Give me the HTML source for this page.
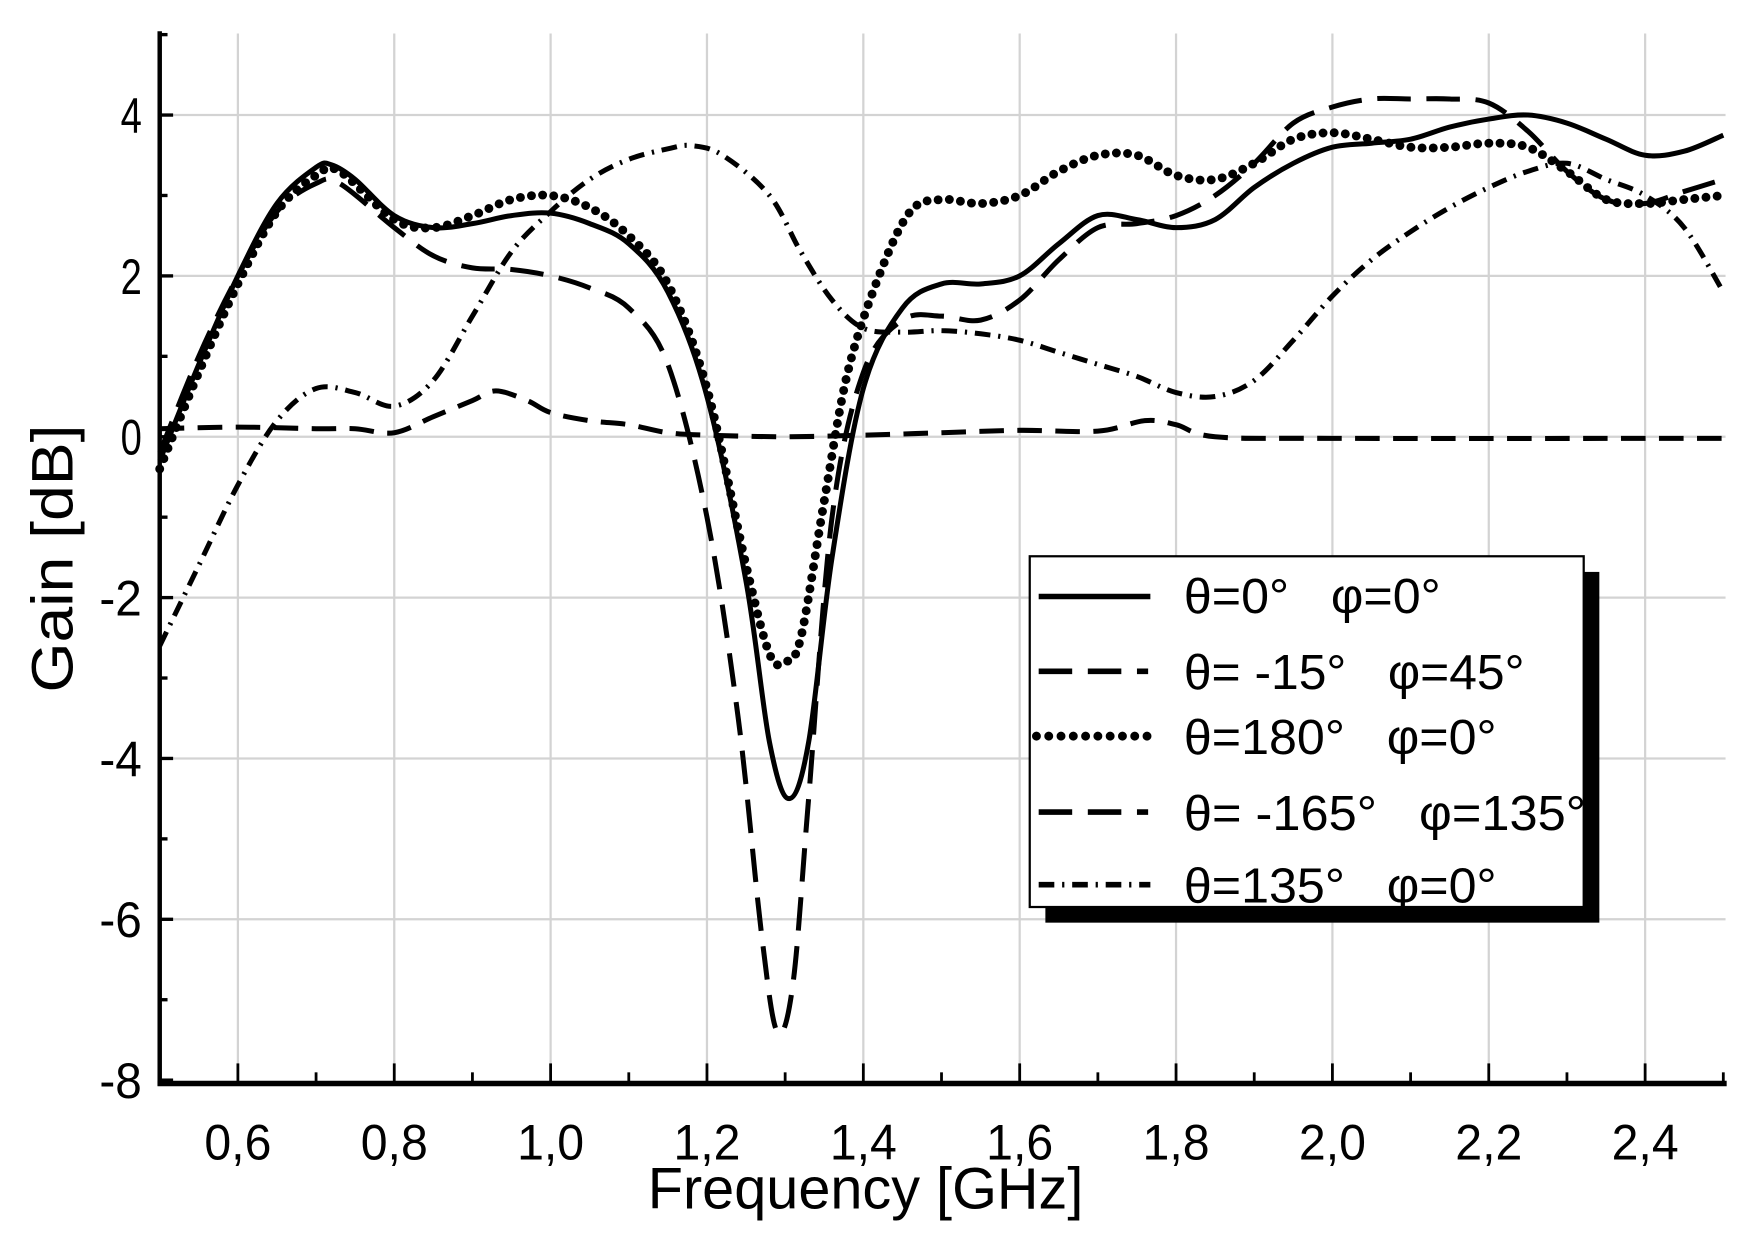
<!DOCTYPE html>
<html><head><meta charset="utf-8"><style>
html,body{margin:0;padding:0;background:#fff}
svg{display:block}
text{font-family:"Liberation Sans",Arial,sans-serif;fill:#000}
</style></head><body>
<svg id="s" width="1749" height="1241" viewBox="0 0 1566 1111" preserveAspectRatio="none" xmlns="http://www.w3.org/2000/svg">
<g id="grid" stroke="#d3d3d3" stroke-width="2"></g>
<g id="curves" fill="none" stroke="#000" stroke-width="4.5" stroke-linejoin="round"></g>
<g id="axes" stroke="#000"></g>
<g id="labels" font-size="45"></g>
<text x="580" y="1082" font-size="52" textLength="390" lengthAdjust="spacingAndGlyphs">Frequency [GHz]</text>
<text transform="translate(65,620) rotate(-90)" font-size="52" textLength="240" lengthAdjust="spacingAndGlyphs">Gain [dB]</text>
<rect x="936" y="512" width="496" height="314" fill="#000"/>
<rect x="922" y="498" width="496" height="314" fill="#fff" stroke="#000" stroke-width="2"/>
<g stroke="#000" stroke-width="5" fill="none">
<line x1="930" y1="534" x2="1030" y2="534"/>
<line x1="930" y1="601" x2="1028" y2="601" stroke-dasharray="30 14"/>
<line x1="928" y1="659" x2="1030" y2="659" stroke-dasharray="0 11" stroke-linecap="round" stroke-width="8"/>
<line x1="930" y1="727" x2="1028" y2="727" stroke-dasharray="30 14"/>
<line x1="930" y1="792" x2="1030" y2="792" stroke-dasharray="14 7 2 7"/>
</g>
<g font-size="44">
<text x="1060" y="549" textLength="230" lengthAdjust="spacingAndGlyphs">θ=0°&#160;&#160; φ=0°</text>
<text x="1060" y="617" textLength="305" lengthAdjust="spacingAndGlyphs">θ= -15°&#160;&#160; φ=45°</text>
<text x="1060" y="675" textLength="280" lengthAdjust="spacingAndGlyphs">θ=180°&#160;&#160; φ=0°</text>
<text x="1060" y="743" textLength="360" lengthAdjust="spacingAndGlyphs">θ= -165°&#160;&#160; φ=135°</text>
<text x="1060" y="808" textLength="280" lengthAdjust="spacingAndGlyphs">θ=135°&#160;&#160; φ=0°</text>
</g>
</svg>
<script>
var NS="http://www.w3.org/2000/svg";
function X(f){return 143+(f-0.5)*700}
function Y(g){return 391-g*72}
function el(p,n,a){var e=document.createElementNS(NS,n);for(var k in a)e.setAttribute(k,a[k]);document.getElementById(p).appendChild(e);return e}
for(var f=0.6;f<2.51;f+=0.2){el("grid","line",{x1:X(f),y1:30,x2:X(f),y2:970})}
for(var g=-6;g<=4;g+=2){el("grid","line",{x1:143,y1:Y(g),x2:1545,y2:Y(g)})}
el("axes","line",{x1:143,y1:28,x2:143,y2:972,"stroke-width":4});
el("axes","line",{x1:141,y1:970,x2:1546,y2:970,"stroke-width":5});
for(var g=-8;g<=5;g++){el("axes","line",{x1:143,y1:Y(g),x2:g%2==0?155:150,y2:Y(g),"stroke-width":3})}
for(var i=0;i<=20;i++){var f=0.5+i*0.1;el("axes","line",{x1:X(f),y1:970,x2:X(f),y2:i%2==1?952:960,"stroke-width":2.5})}
for(var g=-8;g<=4;g+=2){var s=(g<0?"-":"")+Math.abs(g);var t=el("labels","text",{x:127,y:Y(g)+16,"text-anchor":"end",textLength:s.length*19,lengthAdjust:"spacingAndGlyphs"});t.textContent=s}
for(var i=1;i<=10;i++){var f=0.4+i*0.2;var t=el("labels","text",{x:X(f)-30,y:1038,textLength:60,lengthAdjust:"spacingAndGlyphs"});t.textContent=f.toFixed(1).replace(".",",")}
function path(d){var p=d.map(function(q){return[X(q[0]),Y(q[1])]});var s="M"+p[0][0]+","+p[0][1];
for(var i=0;i<p.length-1;i++){var p0=p[i-1]||p[i],p1=p[i],p2=p[i+1],p3=p[i+2]||p2;
s+=" C"+(p1[0]+(p2[0]-p0[0])/6)+","+(p1[1]+(p2[1]-p0[1])/6)+" "+(p2[0]-(p3[0]-p1[0])/6)+","+(p2[1]-(p3[1]-p1[1])/6)+" "+p2[0]+","+p2[1]}return s}
var S=[
[[0.5,-0.3],[0.55,0.9],[0.6,2.0],[0.65,2.9],[0.7,3.35],[0.72,3.38],[0.75,3.2],[0.8,2.75],[0.85,2.6],[0.9,2.65],[0.95,2.75],[1.0,2.78],[1.05,2.65],[1.1,2.4],[1.15,1.8],[1.2,0.5],[1.25,-1.8],[1.28,-3.8],[1.305,-4.5],[1.33,-3.8],[1.36,-1.5],[1.4,0.6],[1.45,1.6],[1.5,1.9],[1.55,1.9],[1.6,2.0],[1.65,2.4],[1.7,2.75],[1.75,2.7],[1.8,2.6],[1.85,2.7],[1.9,3.1],[1.95,3.4],[2.0,3.6],[2.05,3.65],[2.1,3.7],[2.15,3.85],[2.2,3.95],[2.25,4.0],[2.3,3.9],[2.35,3.7],[2.4,3.5],[2.45,3.55],[2.5,3.75]],
[[0.5,-0.2],[0.55,1.0],[0.6,2.0],[0.65,2.8],[0.7,3.15],[0.73,3.15],[0.8,2.6],[0.85,2.25],[0.9,2.1],[0.95,2.08],[1.0,2.0],[1.05,1.85],[1.1,1.6],[1.15,0.9],[1.2,-1.0],[1.24,-3.5],[1.27,-6.2],[1.29,-7.4],[1.31,-6.8],[1.33,-4.5],[1.36,-1.0],[1.4,0.8],[1.45,1.45],[1.5,1.5],[1.55,1.45],[1.6,1.7],[1.65,2.2],[1.7,2.6],[1.75,2.65],[1.8,2.75],[1.85,3.0],[1.9,3.4],[1.95,3.9],[2.0,4.1],[2.05,4.2],[2.1,4.2],[2.15,4.2],[2.2,4.15],[2.25,3.8],[2.3,3.3],[2.35,2.95],[2.4,2.9],[2.45,3.05],[2.5,3.2]],
[[0.5,-0.4],[0.55,0.8],[0.6,1.9],[0.65,2.8],[0.7,3.25],[0.73,3.3],[0.8,2.7],[0.85,2.6],[0.9,2.75],[0.95,2.95],[1.0,3.0],[1.05,2.85],[1.1,2.5],[1.15,1.9],[1.2,0.6],[1.25,-1.6],[1.28,-2.7],[1.3,-2.8],[1.32,-2.5],[1.35,-0.8],[1.38,0.8],[1.42,2.0],[1.46,2.8],[1.5,2.95],[1.55,2.9],[1.6,3.0],[1.65,3.3],[1.7,3.5],[1.75,3.5],[1.8,3.25],[1.85,3.2],[1.9,3.4],[1.95,3.7],[2.0,3.78],[2.05,3.7],[2.1,3.6],[2.15,3.6],[2.2,3.65],[2.25,3.6],[2.3,3.3],[2.35,2.95],[2.4,2.9],[2.45,2.95],[2.5,3.0]],
[[0.5,0.1],[0.6,0.12],[0.7,0.1],[0.75,0.1],[0.8,0.05],[0.85,0.25],[0.9,0.45],[0.93,0.57],[0.97,0.45],[1.0,0.3],[1.05,0.2],[1.1,0.15],[1.15,0.05],[1.2,0.02],[1.3,0],[1.4,0.02],[1.5,0.05],[1.6,0.08],[1.7,0.07],[1.76,0.2],[1.8,0.15],[1.85,0],[2.0,-0.02],[2.5,-0.02]],
[[0.5,-2.6],[0.55,-1.6],[0.6,-0.6],[0.65,0.2],[0.7,0.6],[0.75,0.55],[0.8,0.38],[0.85,0.7],[0.9,1.5],[0.95,2.3],[1.0,2.8],[1.05,3.2],[1.1,3.45],[1.15,3.58],[1.18,3.62],[1.22,3.5],[1.28,3.0],[1.32,2.3],[1.36,1.7],[1.4,1.35],[1.45,1.3],[1.5,1.32],[1.55,1.28],[1.6,1.2],[1.65,1.05],[1.7,0.9],[1.75,0.75],[1.8,0.55],[1.85,0.5],[1.9,0.7],[1.95,1.2],[2.0,1.75],[2.05,2.2],[2.1,2.55],[2.15,2.85],[2.2,3.1],[2.25,3.3],[2.3,3.4],[2.35,3.2],[2.4,3.0],[2.45,2.6],[2.5,1.8]]];
var st=[{},{"stroke-dasharray":"30 14"},{"stroke-dasharray":"0 10","stroke-linecap":"round","stroke-width":8},{"stroke-dasharray":"22 12"},{"stroke-dasharray":"14 7 2 7"}];
S.forEach(function(d,i){var a={d:path(d)};for(var k in st[i])a[k]=st[i][k];el("curves","path",a)});
</script>
</body></html>
